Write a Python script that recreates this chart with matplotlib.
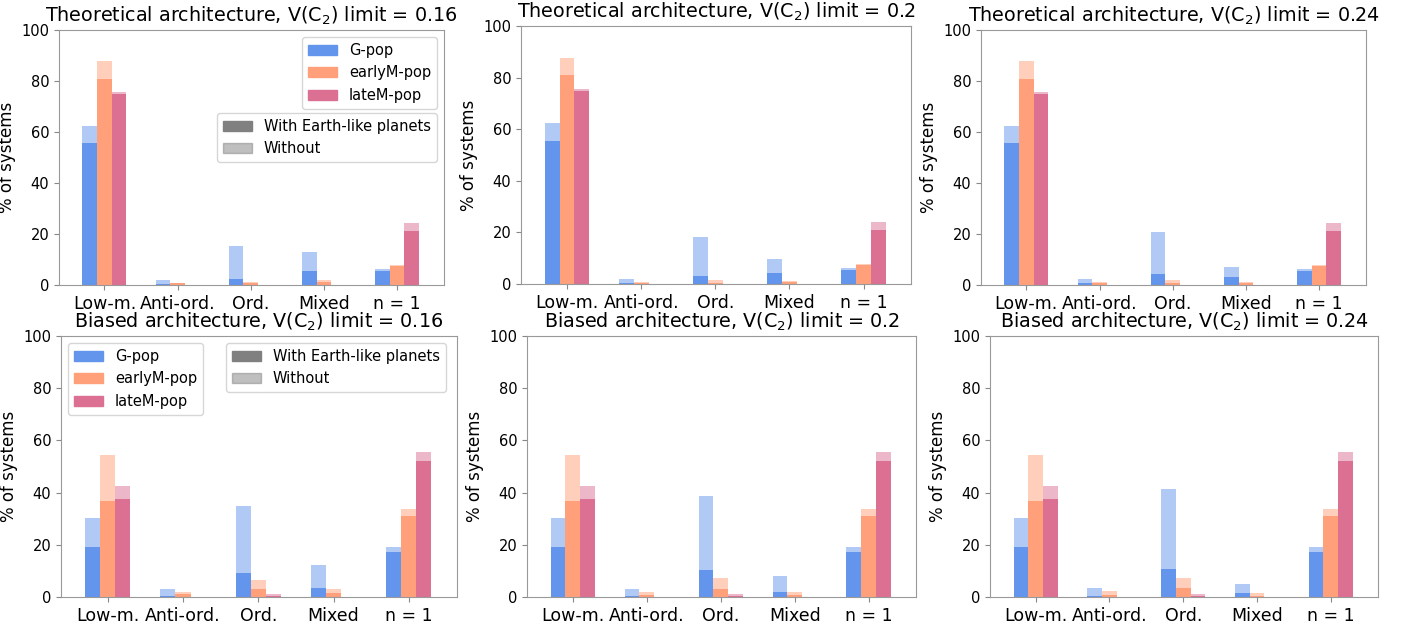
import matplotlib
matplotlib.use("Agg")
import matplotlib.pyplot as plt
import matplotlib.patches as mpatches
import numpy as np

categories = ["Low-m.", "Anti-ord.", "Ord.", "Mixed", "n = 1"]
pops = ["G-pop", "earlyM-pop", "lateM-pop"]
colors = ["#6495ED", "#FFA07A", "#DB7093"]
limits = ["0.16", "0.2", "0.24"]

# % of systems WITH Earth-like planets (dark) and total (light top), per population
# theoretical architecture
theo_with = {
    "0.16": [[55.6, 0.4, 2.5, 5.4, 5.4], [80.9, 0.6, 0.6, 1.0, 7.5], [74.9, 0.0, 0.0, 0.0, 21.0]],
    "0.2":  [[55.6, 0.4, 3.2, 4.1, 5.3], [80.9, 0.5, 0.5, 0.9, 7.5], [74.9, 0.0, 0.0, 0.0, 21.0]],
    "0.24": [[55.6, 0.8, 4.3, 3.3, 5.4], [80.9, 0.7, 0.8, 0.8, 7.5], [74.9, 0.0, 0.0, 0.0, 21.0]],
}
theo_total = {
    "0.16": [[62.4, 2.1, 15.4, 13.1, 6.4], [87.8, 0.8, 1.3, 2.0, 7.7], [75.7, 0.0, 0.0, 0.0, 24.2]],
    "0.2":  [[62.4, 2.1, 18.3, 9.8, 6.4], [87.8, 0.9, 1.7, 1.3, 7.7], [75.7, 0.0, 0.0, 0.0, 24.2]],
    "0.24": [[62.4, 2.5, 20.8, 7.2, 6.4], [87.8, 1.0, 2.0, 1.0, 7.7], [75.7, 0.0, 0.0, 0.0, 24.2]],
}
# biased architecture
bias_with = {
    "0.16": [[19.0, 0.5, 9.1, 3.3, 17.1], [36.9, 1.0, 2.9, 1.4, 31.1], [37.5, 0.0, 0.5, 0.0, 52.3]],
    "0.2":  [[19.0, 0.5, 10.2, 2.0, 17.1], [36.9, 0.9, 3.2, 0.9, 31.1], [37.5, 0.0, 0.5, 0.0, 52.3]],
    "0.24": [[19.0, 0.5, 10.8, 1.4, 17.1], [36.9, 0.9, 3.4, 0.5, 31.1], [37.5, 0.0, 0.5, 0.0, 52.3]],
}
bias_total = {
    "0.16": [[30.1, 2.9, 34.9, 12.1, 19.3], [54.5, 1.9, 6.6, 2.9, 33.8], [42.5, 0.0, 1.3, 0.0, 55.7]],
    "0.2":  [[30.1, 3.2, 38.8, 8.2, 19.3], [54.5, 2.0, 7.1, 2.0, 33.8], [42.5, 0.0, 1.3, 0.0, 55.7]],
    "0.24": [[30.1, 3.4, 41.3, 5.1, 19.3], [54.5, 2.3, 7.4, 1.7, 33.8], [42.5, 0.0, 1.3, 0.0, 55.7]],
}

# axes boxes (left, bottom, width, height) in figure fraction
boxes = [
    [0.0420, 0.5447, 0.2738, 0.4073],
    [0.3706, 0.5463, 0.2774, 0.4121],
    [0.6977, 0.5447, 0.2738, 0.4073],
    [0.0434, 0.0463, 0.2817, 0.4169],
    [0.3748, 0.0463, 0.2767, 0.4169],
    [0.7041, 0.0463, 0.2760, 0.4169],
]

fig = plt.figure(figsize=(14.06, 6.26), dpi=100)
x = np.arange(len(categories))
w = 0.2

panels = []
for lim in limits:
    panels.append(("Theoretical", theo_with[lim], theo_total[lim], lim))
for lim in limits:
    panels.append(("Biased", bias_with[lim], bias_total[lim], lim))

for k, (arch, with_v, tot_v, lim) in enumerate(panels):
    ax = fig.add_axes(boxes[k])
    for i in range(3):
        wv = np.array(with_v[i])
        tv = np.array(tot_v[i])
        pos = x + (i - 1) * w
        ax.bar(pos, wv, w, color=colors[i], label=pops[i])
        ax.bar(pos, tv - wv, w, bottom=wv, color=colors[i], alpha=0.5)
    ax.set_xticks(x)
    ax.set_xticklabels(categories, fontsize=12.5)
    ax.set_xlim(-0.62, 4.64)
    ax.set_ylim(0, 100)
    ax.set_yticks(np.arange(0, 101, 20))
    ax.tick_params(axis="y", labelsize=10.5)
    ax.tick_params(colors="#888888", labelcolor="black")
    for sp in ax.spines.values():
        sp.set_color("#999999")
    ax.set_ylabel("% of systems", fontsize=12)
    ax.set_title(arch + " architecture, V(C$_2$) limit = " + lim, fontsize=13.8)

    if k in (0, 3):
        handles = [mpatches.Patch(color=colors[i], label=pops[i]) for i in range(3)]
        earth = [mpatches.Patch(color="gray", label="With Earth-like planets"),
                 mpatches.Patch(color="gray", alpha=0.5, label="Without")]
        if k == 0:
            l1 = ax.legend(handles=handles, loc="upper right", fontsize=10.5)
            ax.add_artist(l1)
            ax.legend(handles=earth, loc="upper right", bbox_to_anchor=(1.0, 0.703), fontsize=10.5)
        else:
            l1 = ax.legend(handles=handles, loc="upper left", fontsize=10.5)
            ax.add_artist(l1)
            ax.legend(handles=earth, loc="upper right", bbox_to_anchor=(0.99, 1.0), fontsize=10.5)

fig.savefig("out.png", dpi=100)
